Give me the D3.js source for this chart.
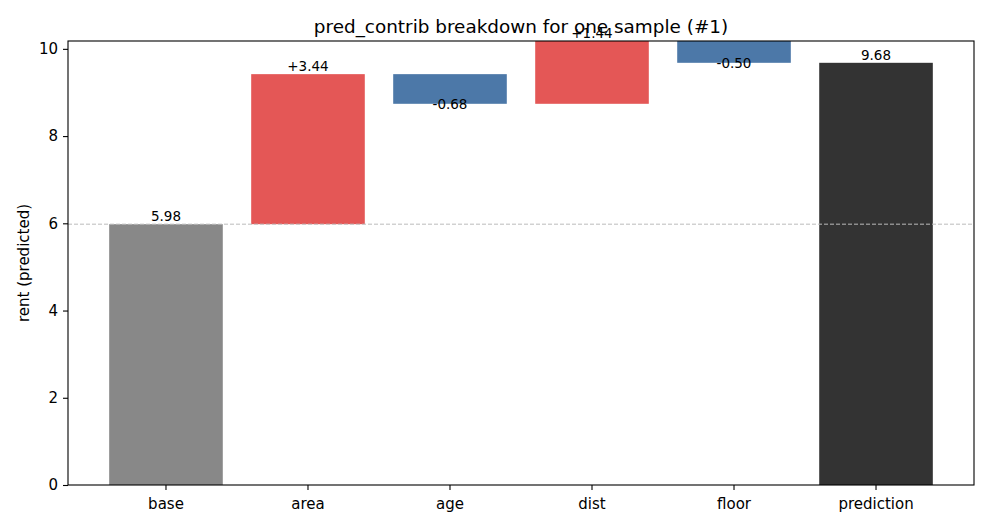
<!DOCTYPE html>
<html>
<head>
<meta charset="utf-8">
<script src="https://cdn.jsdelivr.net/npm/d3@7"></script>
<style>
  html, body { margin: 0; padding: 0; background: #fff; }
  text { font-family: "DejaVu Sans", sans-serif; }
</style>
</head>
<body>
<svg id="chart" width="990" height="528"></svg>
<script>
const categories = ["base", "area", "age", "dist", "floor", "prediction"];
const baseValue = 5.98;
const contributions = [3.44, -0.68, 1.44, -0.50];
const predictionValue = 9.68;
const yTicks = [0, 2, 4, 6, 8, 10];
const titleText = "pred_contrib breakdown for one sample (#1)";
const yLabelText = "rent (predicted)";

const W = 990, H = 528;
const margin = { left: 68, right: 16, top: 41, bottom: 43 };
const svg = d3.select("#chart");

// build waterfall rows
const rows = [];
rows.push({ cat: "base", y0: 0, y1: baseValue, label: baseValue.toFixed(2), kind: "base" });
let cum = baseValue;
contributions.forEach((v, i) => {
  const start = cum, end = cum + v;
  rows.push({ cat: categories[i + 1], y0: Math.min(start, end), y1: Math.max(start, end),
    label: (v >= 0 ? "+" : "") + v.toFixed(2), kind: v >= 0 ? "pos" : "neg" });
  cum = end;
});
rows.push({ cat: "prediction", y0: 0, y1: predictionValue, label: predictionValue.toFixed(2), kind: "pred" });

const yMax = d3.max(rows, d => d.y1);
const x = d3.scaleBand().domain(categories)
  .range([margin.left, W - margin.right]).paddingInner(0.2).paddingOuter(0.29);
const y = d3.scaleLinear().domain([0, yMax]).range([H - margin.bottom, margin.top]);

const colors = { base: "#888888", pos: "#e45756", neg: "#4c78a8", pred: "#333333" };

// bars
svg.append("g").selectAll("rect").data(rows).join("rect")
  .attr("x", d => x(d.cat))
  .attr("width", x.bandwidth())
  .attr("y", d => y(d.y1))
  .attr("height", d => y(d.y0) - y(d.y1))
  .attr("fill", d => colors[d.kind]);

// base dashed line
svg.append("line")
  .attr("x1", margin.left).attr("x2", W - margin.right)
  .attr("y1", y(baseValue)).attr("y2", y(baseValue))
  .attr("stroke", "#bbbbbb").attr("stroke-width", 1)
  .attr("stroke-dasharray", "4,2");

// labels
svg.append("g").selectAll("text").data(rows).join("text")
  .attr("x", d => x(d.cat) + x.bandwidth() / 2)
  .attr("y", d => d.kind === "neg" ? y(d.y0) : y(d.y1) - 3)
  .attr("dominant-baseline", d => d.kind === "neg" ? "central" : "auto")
  .attr("text-anchor", "middle")
  .attr("font-size", "13.5px")
  .attr("fill", "#000")
  .text(d => d.label);

// axes
const xAxis = svg.append("g")
  .attr("transform", `translate(0,${H - margin.bottom})`)
  .call(d3.axisBottom(x).tickSize(5).tickPadding(8));
const yAxis = svg.append("g")
  .attr("transform", `translate(${margin.left},0)`)
  .call(d3.axisLeft(y).tickValues(yTicks).tickFormat(d3.format("d")).tickSize(5).tickPadding(5));
[xAxis, yAxis].forEach(g => {
  g.select(".domain").remove();
  g.selectAll("text").attr("font-size", "15px").attr("font-family", "DejaVu Sans").attr("fill", "#000");
  g.selectAll("line").attr("stroke", "#000").attr("stroke-width", 1.1);
});
xAxis.selectAll("text").attr("dy", "0.75em");

// frame
svg.append("rect")
  .attr("x", margin.left).attr("y", margin.top)
  .attr("width", W - margin.right - margin.left)
  .attr("height", H - margin.bottom - margin.top)
  .attr("fill", "none").attr("stroke", "#000").attr("stroke-width", 1.1);

// title
svg.append("text")
  .attr("x", (margin.left + W - margin.right) / 2)
  .attr("y", 33)
  .attr("text-anchor", "middle")
  .attr("font-size", "18.4px")
  .text(titleText);

// y label
svg.append("text")
  .attr("transform", `translate(29,${(margin.top + H - margin.bottom) / 2}) rotate(-90)`)
  .attr("text-anchor", "middle")
  .attr("font-size", "15px")
  .text(yLabelText);
</script>
</body>
</html>
